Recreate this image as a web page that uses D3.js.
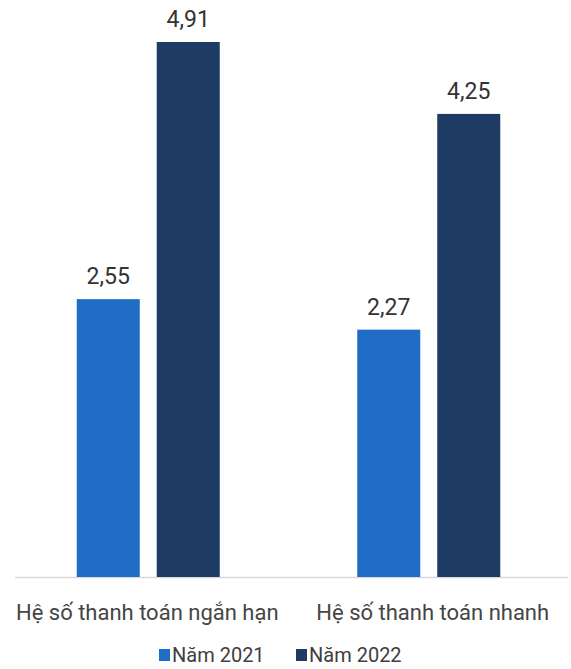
<!DOCTYPE html>
<html>
<head>
<meta charset="utf-8">
<script src="https://cdn.jsdelivr.net/npm/d3@7/dist/d3.min.js"></script>
<style>
  html, body { margin: 0; padding: 0; background: #fff; }
  svg { display: block; font-family: Roboto, "Noto Sans", sans-serif; }
</style>
</head>
<body>
<svg id="chart" width="571" height="669"></svg>
<script>
// Liquidity ratios, 2021 vs 2022
const categories = ["Hệ số thanh toán ngắn hạn", "Hệ số thanh toán nhanh"];
const seriesNames = ["Năm 2021", "Năm 2022"];
const values2021 = [2.55, 2.27];
const values2022 = [4.91, 4.25];
const colors = ["#1f6dc6", "#1e3b64"];

const seriesValues = [values2021, values2022];
const fmt = v => d3.format(".2f")(v).replace(".", ",");

const svg = d3.select("#chart");

const baseY = 577;
const x0 = d3.scaleBand().domain(categories).range([8, 569]).padding(0);
const x1 = d3.scaleBand().domain(seriesNames).range([0, 143]).paddingInner(0.2125).paddingOuter(0);
const y = d3.scaleLinear().domain([0, 4.91]).range([baseY, 42]);

// Baseline
svg.append("line")
  .attr("x1", 15).attr("x2", 568)
  .attr("y1", baseY + 0.5).attr("y2", baseY + 0.5)
  .attr("stroke", "#d9d9d9").attr("stroke-width", 1.5);

const groups = svg.selectAll("g.cat")
  .data(categories)
  .join("g")
  .attr("class", "cat")
  .attr("transform", d => `translate(${x0(d) + x0.bandwidth() / 2 - 71.5},0)`);

groups.each(function (cat, ci) {
  const g = d3.select(this);
  seriesNames.forEach((s, si) => {
    const v = seriesValues[si][ci];
    g.append("rect")
      .attr("x", x1(s))
      .attr("y", y(v))
      .attr("width", x1.bandwidth())
      .attr("height", baseY - y(v))
      .attr("fill", colors[si]);
    g.append("text")
      .attr("x", x1(s) + x1.bandwidth() / 2)
      .attr("y", y(v) - 15)
      .attr("text-anchor", "middle")
      .attr("font-size", 23)
      .attr("fill", "#333")
      .text(fmt(v));
  });
});

// Category labels
const labelShift = [-1, 4];
svg.selectAll("text.cat-label")
  .data(categories)
  .join("text")
  .attr("class", "cat-label")
  .attr("x", (d, i) => x0(d) + x0.bandwidth() / 2 + labelShift[i])
  .attr("y", 620)
  .attr("text-anchor", "middle")
  .attr("font-size", 22)
  .attr("fill", "#454545")
  .text(d => d);

// Legend
const legend = svg.append("g").attr("transform", "translate(0,662)");
const legendX = [159, 296];
seriesNames.forEach((s, i) => {
  legend.append("rect")
    .attr("x", legendX[i]).attr("y", -13)
    .attr("width", 11).attr("height", 12)
    .attr("fill", colors[i]);
  legend.append("text")
    .attr("x", legendX[i] + 13).attr("y", 0)
    .attr("font-size", 20)
    .attr("fill", "#404040")
    .text(s);
});
</script>
</body>
</html>
